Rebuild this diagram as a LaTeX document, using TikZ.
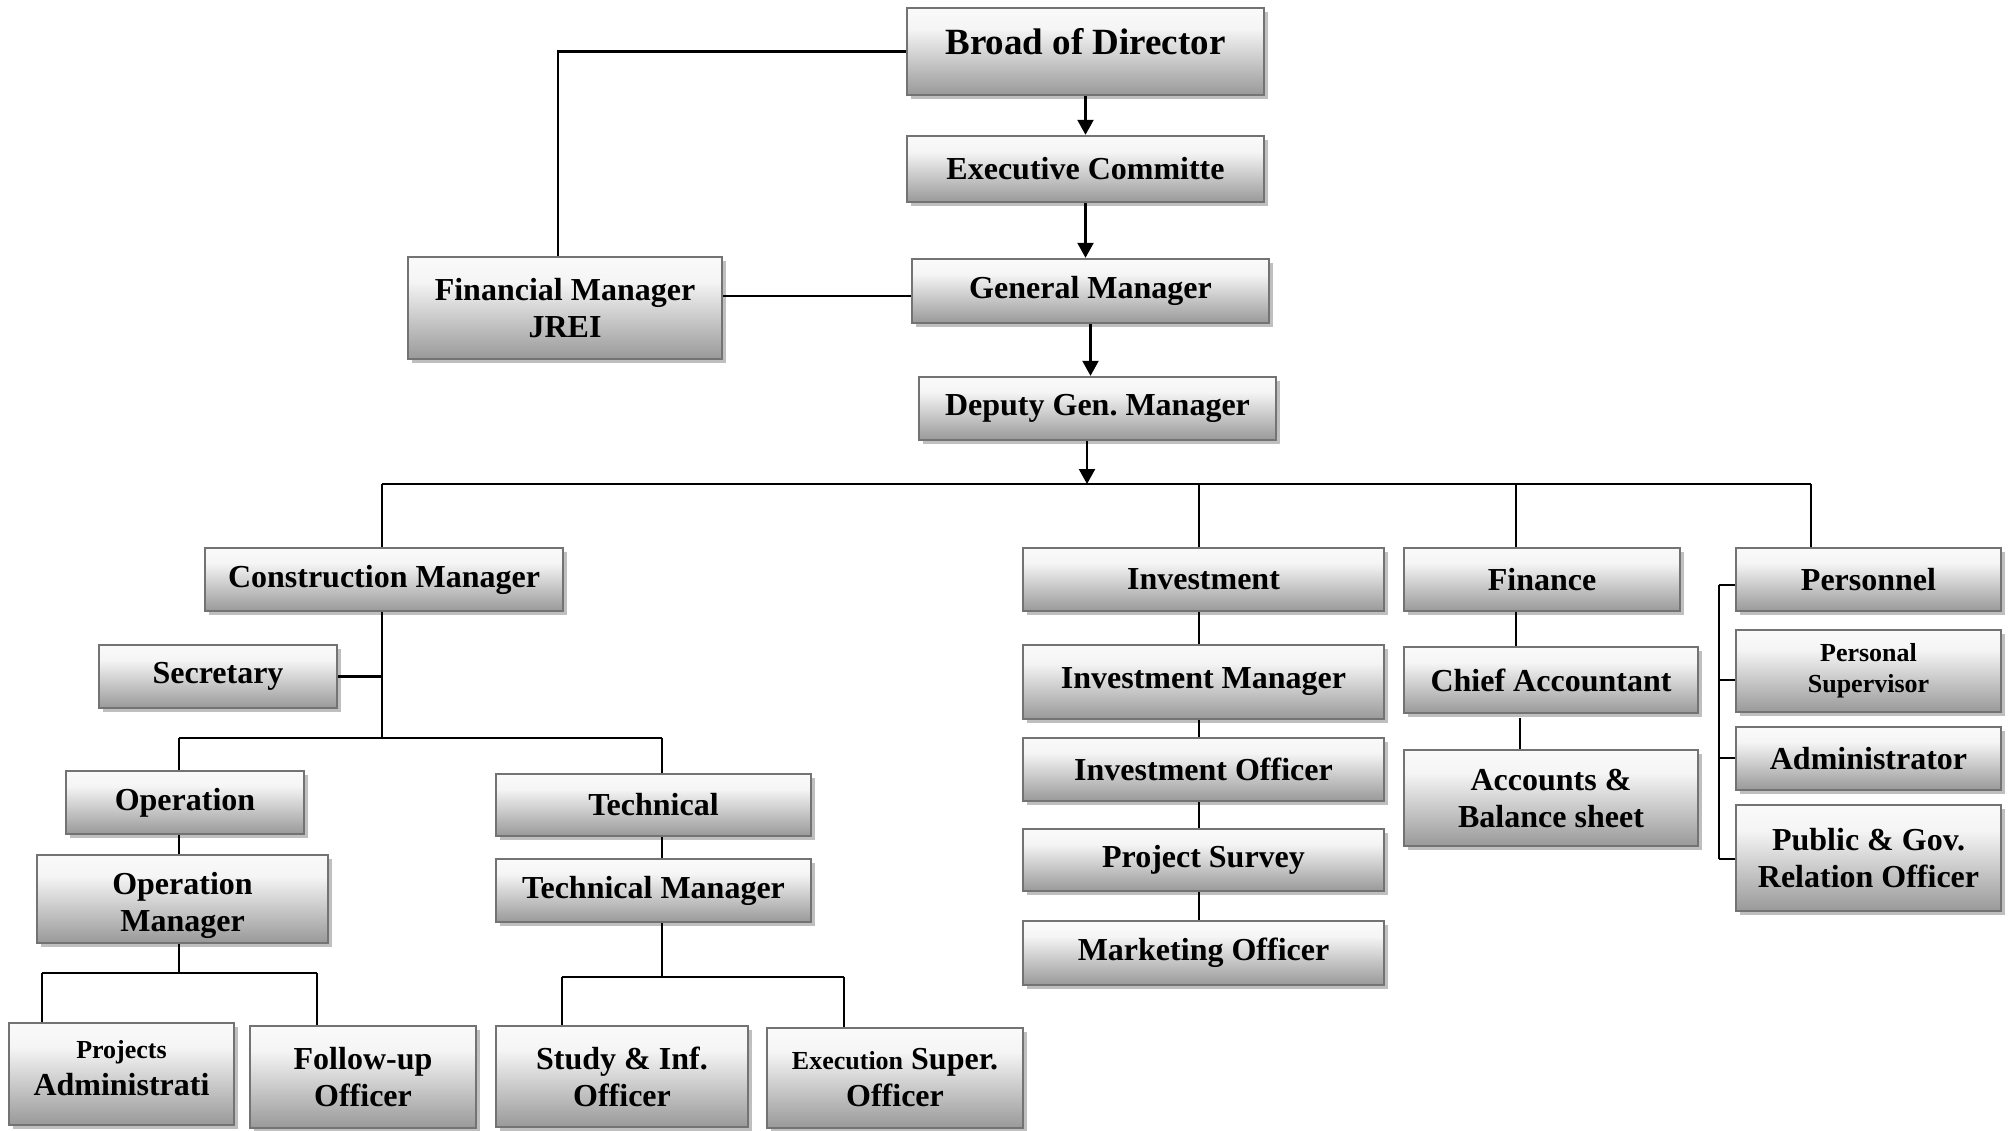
\documentclass[tikz,border=0pt]{standalone}
\usepackage{fontspec}
\setmainfont{Liberation Serif}
\usetikzlibrary{shadows,arrows.meta}
\pgfdeclareverticalshading{boxgrad}{100bp}{color(0bp)=(black!40); color(25bp)=(black!40); color(45bp)=(black!21); color(63bp)=(black!4); color(75bp)=(black!2); color(100bp)=(black!2)}
\tikzset{
  orgbox/.style={draw=black!55, line width=1.2pt, shading=boxgrad, inner sep=0pt, align=center,
    font=\fontsize{16pt}{18.5pt}\selectfont\bfseries,
    drop shadow={shadow xshift=1.8pt, shadow yshift=-1.8pt, fill=black!25, opacity=1}},
  boxtext/.style={inner sep=0pt, align=center, font=\fontsize{16pt}{18.5pt}\selectfont\bfseries},
  smalltext/.style={boxtext, font=\fontsize{13pt}{15.5pt}\selectfont\bfseries},
  conn/.style={line width=1.1pt, draw=black},
  arr/.style={conn, -{Triangle[length=7.5pt,width=8pt]}}
}
\newcommand\smtext[1]{{\fontsize{13pt}{15pt}\selectfont #1}}
% \obox{x1}{y1}{x2}{y2}{name}{text}
\newcommand\obox[6]{\node[orgbox, minimum width={(#3-#1)*0.5pt}, minimum height={(#4-#2)*0.5pt}] (#5) at ({(#1+#3)/2},{(#2+#4)/2}) {#6};}
% \oboxr{x1}{y1}{x2}{y2}{name}{raise}{text}: box with text shifted up by raise
\newcommand\oboxr[7]{\node[orgbox, minimum width={(#3-#1)*0.5pt}, minimum height={(#4-#2)*0.5pt}] (#5) at ({(#1+#3)/2},{(#2+#4)/2}) {};
  \node[boxtext] (#5-t) at ([yshift=#6]#5.center) {#7};}
\begin{document}
\begin{tikzpicture}[x=0.5pt, y=-0.5pt]
\fill[white] (0,0) rectangle (2011,1130);
\useasboundingbox (0,0) rectangle (2011,1130);

% top
\oboxr{907}{8}{1264}{95}{bod}{5pt}{\fontsize{18.5pt}{21pt}\selectfont Broad of Director}
\obox{907}{136}{1264}{202}{exe}{Executive Committe}
\obox{912}{259}{1269}{323}{gm}{General Manager}
\obox{408}{257}{722}{359}{fm}{Financial Manager\\JREI}
\obox{919}{377}{1276}{440}{dgm}{Deputy Gen.\ Manager}

% construction
\obox{205}{548}{563}{611}{cm}{Construction Manager}
\obox{99}{645}{337}{708}{sec}{Secretary}
\obox{66}{771}{304}{834}{op}{Operation}
\obox{496}{774}{811}{836}{tech}{Technical}
\oboxr{37}{855}{328}{943}{opm}{-3pt}{Operation\\Manager}
\obox{496}{859}{811}{922}{tm}{Technical Manager}
\oboxr{9}{1023}{234}{1125}{pa}{3pt}{\smtext{Projects}\\Administrati}
\obox{250}{1026}{476}{1128}{fu}{Follow-up\\Officer}
\obox{496}{1026}{748}{1127}{si}{Study \& Inf.\\Officer}
\obox{767}{1028}{1023}{1128}{es}{\smtext{Execution} Super.\\Officer}

% investment
\obox{1023}{548}{1384}{611}{inv}{Investment}
\obox{1023}{645}{1384}{719}{invm}{Investment Manager}
\obox{1023}{738}{1384}{801}{invo}{Investment Officer}
\obox{1023}{829}{1384}{891}{ps}{Project Survey}
\obox{1023}{921}{1384}{985}{mo}{Marketing Officer}

% finance
\obox{1404}{548}{1680}{611}{fin}{Finance}
\obox{1404}{647}{1698}{713}{ca}{Chief Accountant}
\obox{1404}{750}{1698}{846}{ab}{Accounts \&\\Balance sheet}

% personnel
\obox{1736}{548}{2001}{611}{per}{Personnel}
\obox{1736}{630}{2001}{712}{psup}{}
\node[smalltext] (psup-t) at (psup.center) {Personal\\Supervisor};
\obox{1736}{727}{2001}{790}{adm}{Administrator}
\obox{1736}{805}{2001}{911}{pub}{Public \& Gov.\\Relation Officer}

% top connectors
\draw[conn] (bod.west) -| ([xshift=-3.5pt]fm.north);
\draw[conn] ([yshift=-2.5pt]gm.west) -- ([yshift=-2.5pt]gm.west -| fm.east);
\draw[arr] (bod.south) -- (exe.north);
\draw[arr] (exe.south) -- (exe.south |- gm.north);
\draw[arr] (gm.south) -- (gm.south |- dgm.north);
\coordinate (busc) at (1087,484);
\draw[arr] (dgm.south -| busc) -- (busc);

% main bus
\coordinate (bcm) at (382,484);
\coordinate (binv) at (1199,484);
\coordinate (bfin) at (1516,484);
\coordinate (bper) at (1811,484);
\draw[conn] (bcm) -- (bper);
\draw[conn] (bcm) -- (bcm |- cm.north);
\draw[conn] (binv) -- (binv |- inv.north);
\draw[conn] (bfin) -- (bfin |- fin.north);
\draw[conn] (bper) -- (bper |- per.north);

% construction subtree
\coordinate (cmj) at (382,738);
\draw[conn] (cmj |- cm.south) -- (cmj);
\draw[conn] (sec.east) -- (sec.east -| cmj);
\coordinate (opj) at (179,738);
\coordinate (tej) at (662,738);
\draw[conn] (opj) -- (tej);
\draw[conn] (opj) -- (opj |- op.north);
\draw[conn] (tej) -- (tej |- tech.north);
\draw[conn] (opj |- op.south) -- (opj |- opm.north);
\draw[conn] (tej |- tech.south) -- (tej |- tm.north);
\coordinate (omj) at (179,973);
\coordinate (paj) at (42,973);
\coordinate (fuj) at (317,973);
\draw[conn] (opj |- opm.south) -- (omj);
\draw[conn] (paj) -- (fuj);
\draw[conn] (paj) -- (paj |- pa.north);
\draw[conn] (fuj) -- (fuj |- fu.north);
\coordinate (tmj) at (662,977);
\coordinate (sij) at (562,977);
\coordinate (esj) at (844,977);
\draw[conn] (tej |- tm.south) -- (tmj);
\draw[conn] (sij) -- (esj);
\draw[conn] (sij) -- (sij |- si.north);
\draw[conn] (esj) -- (esj |- es.north);

% investment chain
\draw[conn] (binv |- inv.south) -- (binv |- invm.north);
\draw[conn] (binv |- invm.south) -- (binv |- invo.north);
\draw[conn] (binv |- invo.south) -- (binv |- ps.north);
\draw[conn] (binv |- ps.south) -- (binv |- mo.north);

% finance chain
\draw[conn] (bfin |- fin.south) -- (bfin |- ca.north);
\coordinate (caj) at (1520,718);
\draw[conn] (caj) -- (caj |- ab.north);

% personnel bracket
\coordinate (pb1) at (1719,585);
\coordinate (pb2) at (1719,680);
\coordinate (pb3) at (1719,758);
\coordinate (pb4) at (1719,859);
\draw[conn] (pb1) -- (pb4);
\draw[conn] (pb1) -- (pb1 -| per.west);
\draw[conn] (pb2) -- (pb2 -| psup.west);
\draw[conn] (pb3) -- (pb3 -| adm.west);
\draw[conn] (pb4) -- (pb4 -| pub.west);
\end{tikzpicture}
\end{document}
